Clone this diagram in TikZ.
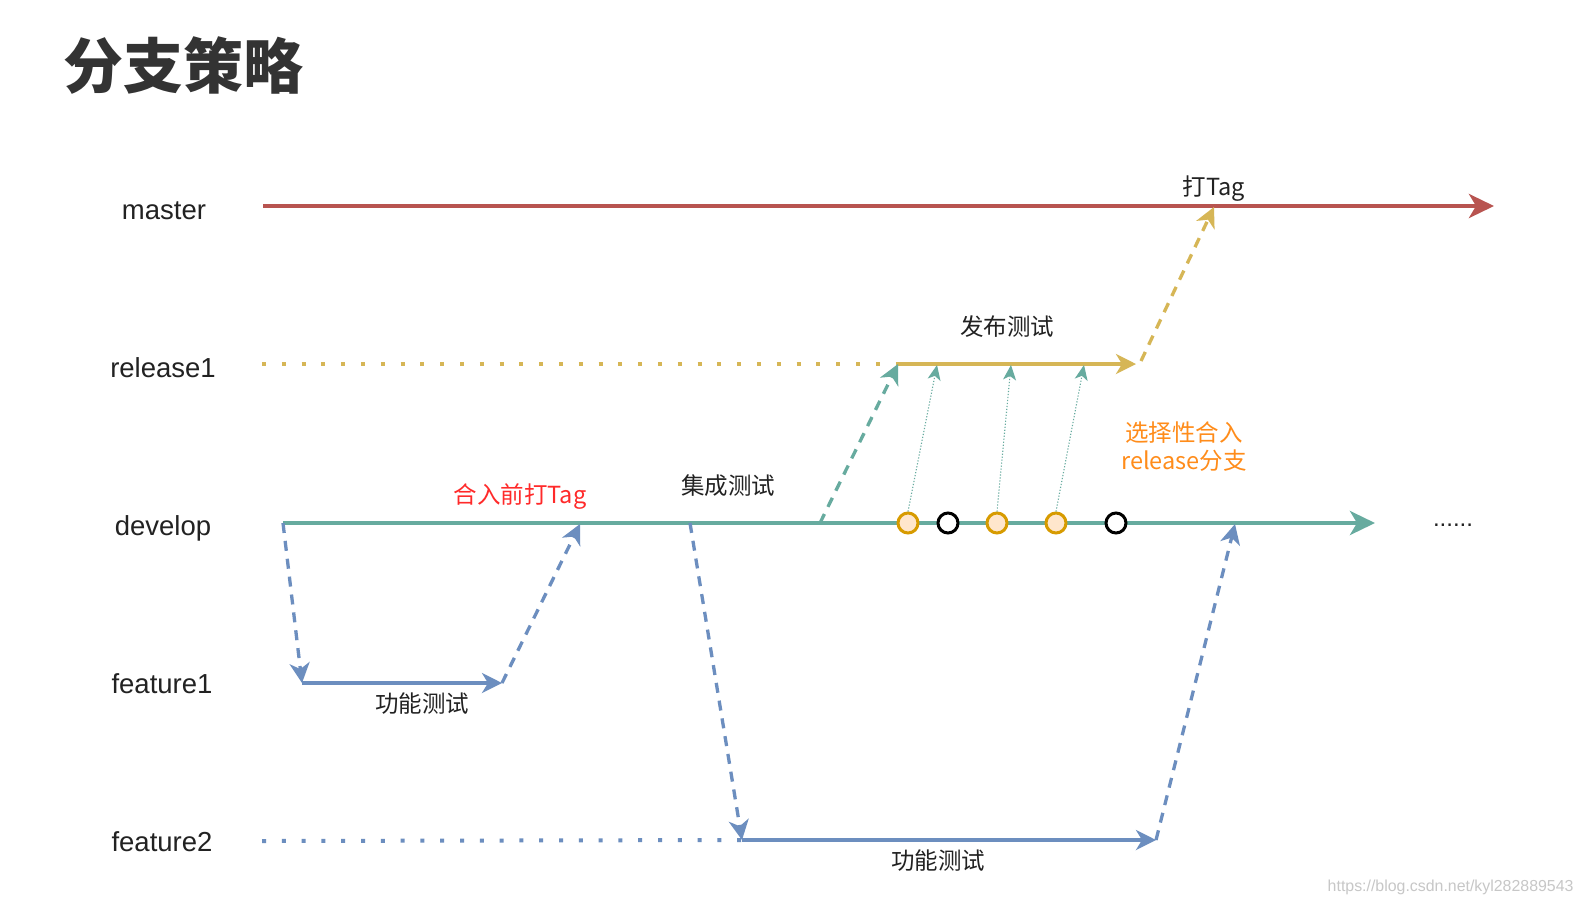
\documentclass[tikz,border=0pt]{standalone}
\usepackage{fontspec}
\setmainfont{Liberation Sans}
\newfontfamily\cjk{Noto Sans CJK SC}
\usetikzlibrary{arrows.meta}
\definecolor{cred}{HTML}{B85450}
\definecolor{cyel}{HTML}{D6B656}
\definecolor{cgrn}{HTML}{67AB9F}
\definecolor{cblu}{HTML}{6C8EBF}
\definecolor{corg}{HTML}{D79B00}
\definecolor{corgfill}{HTML}{FFE6CC}
\definecolor{ctxt}{HTML}{222222}
\definecolor{corgtxt}{HTML}{FF8C1A}
\definecolor{credtxt}{HTML}{FF2A2A}
\begin{document}
\begin{tikzpicture}[x=1pt,y=-1pt,
  lbl/.style={font=\fontsize{27.5}{32}\selectfont, text=ctxt},
  cl/.style={font=\cjk\fontsize{23.5}{28}\selectfont, text=ctxt},
  mainln/.style={line width=4pt},
  subln/.style={line width=3.3pt},
  dsh/.style={line width=3.3pt, dash pattern=on 10pt off 8pt},
  dotln/.style={line width=4pt, dash pattern=on 4pt off 15.8pt},
  thinln/.style={line width=1.1pt, dash pattern=on 1.2pt off 1.8pt},
  bigtip/.style={-{Stealth[length=25pt,width=24pt,inset=7pt]}},
  midtip/.style={-{Stealth[length=20pt,width=20pt,inset=6pt]}},
  smalltip/.style={-{Stealth[length=15pt,width=13pt,inset=4pt]}},
  ocirc/.style={circle, draw=corg, fill=corgfill, line width=3pt, minimum size=20pt, inner sep=0pt},
  kcirc/.style={circle, draw=black, fill=white, line width=3pt, minimum size=20pt, inner sep=0pt}
]
\useasboundingbox[fill=white] (0,0) rectangle (1584,906);

% title
\node[font=\cjk\bfseries\fontsize{60}{66}\selectfont, text=black!80, anchor=west] (title) at (60,66) {分支策略};

% branch labels
\node[lbl] (lmaster) at (164,211) {master};
\node[lbl] (lrel) at (163,368) {release1};
\node[lbl] (ldev) at (163,528) {develop};
\node[lbl] (lf1) at (162,684) {feature1};
\node[lbl] (lf2) at (162,842) {feature2};

% coordinates
\coordinate (m0) at (263,206);
\coordinate (m1) at (1494,206);
\coordinate (mtag) at (1214,207);

\coordinate (r0) at (262,364);
\coordinate (rs) at (898,364);
\coordinate (re) at (1136,364);
\coordinate (rd) at (1141,361);

\coordinate (d0) at (283,523);
\coordinate (d1) at (1375,523);
\coordinate (dm1) at (580,524);
\coordinate (dfs) at (690,523);
\coordinate (drs) at (820,523);
\coordinate (dm2) at (1235,524);

\coordinate (f1s) at (302,683);
\coordinate (f1e) at (502,683);

\coordinate (f2d) at (262,841);
\coordinate (f2s) at (742,840);
\coordinate (f2e) at (1156,840);

% master
\draw[mainln, cred, bigtip] (m0) -- (m1);
% release1
\draw[dotln, cyel] (r0) -- (rs);
\draw[subln, cyel, midtip] (rs) -- (re);
% develop
\draw[mainln, cgrn, bigtip] (d0) -- (d1);
% feature1
\draw[subln, cblu, midtip] (f1s) -- (f1e);
% feature2
\draw[dotln, cblu] (f2d) -- (f2s);
\draw[subln, cblu, midtip] (f2s) -- (f2e);

% dashed connectors
\draw[dsh, cblu, midtip] (d0) -- (f1s);
\draw[dsh, cblu, midtip] (f1e) -- (dm1);
\draw[dsh, cblu, midtip] (dfs) -- (f2s);
\draw[dsh, cblu, midtip] (f2e) -- (dm2);
\draw[dsh, cgrn, midtip] (drs) -- (rs);
\draw[dsh, cyel, midtip] (rd) -- (mtag);

% commits
\node[ocirc] (c1) at (908,523) {};
\node[kcirc] (c2) at (948,523) {};
\node[ocirc] (c3) at (997,523) {};
\node[ocirc] (c4) at (1056,523) {};
\node[kcirc] (c5) at (1116,523) {};

\coordinate (t1) at (937,365);
\coordinate (t2) at (1011,365);
\coordinate (t3) at (1084,365);
\draw[thinln, cgrn, smalltip] (c1.north) -- (t1);
\draw[thinln, cgrn, smalltip] (c3.north) -- (t2);
\draw[thinln, cgrn, smalltip] (c4.north) -- (t3);

% labels
\node[cl] (ltag) at (1214,189) {打Tag};
\node[cl] (lrt) at (1007,327) {发布测试};
\node[cl, text=corgtxt, align=center, font=\cjk\fontsize{23.5}{28}\selectfont] (lsel) at (1184,447) {选择性合入\\release分支};
\node[cl, text=credtxt] (lpre) at (520,496) {合入前打Tag};
\node[cl] (lint) at (728,486) {集成测试};
\node[cl] (lft1) at (422,704) {功能测试};
\node[cl] (lft2) at (938,861) {功能测试};
\node[font=\fontsize{24}{28}\selectfont, text=ctxt, anchor=base] (ell) at (1453,526) {......};
\node[font=\fontsize{15.9}{18}\selectfont, text=black!22, anchor=east] (wm) at (1577,887) {https://blog.csdn.net/kyl282889543};
\end{tikzpicture}
\end{document}
